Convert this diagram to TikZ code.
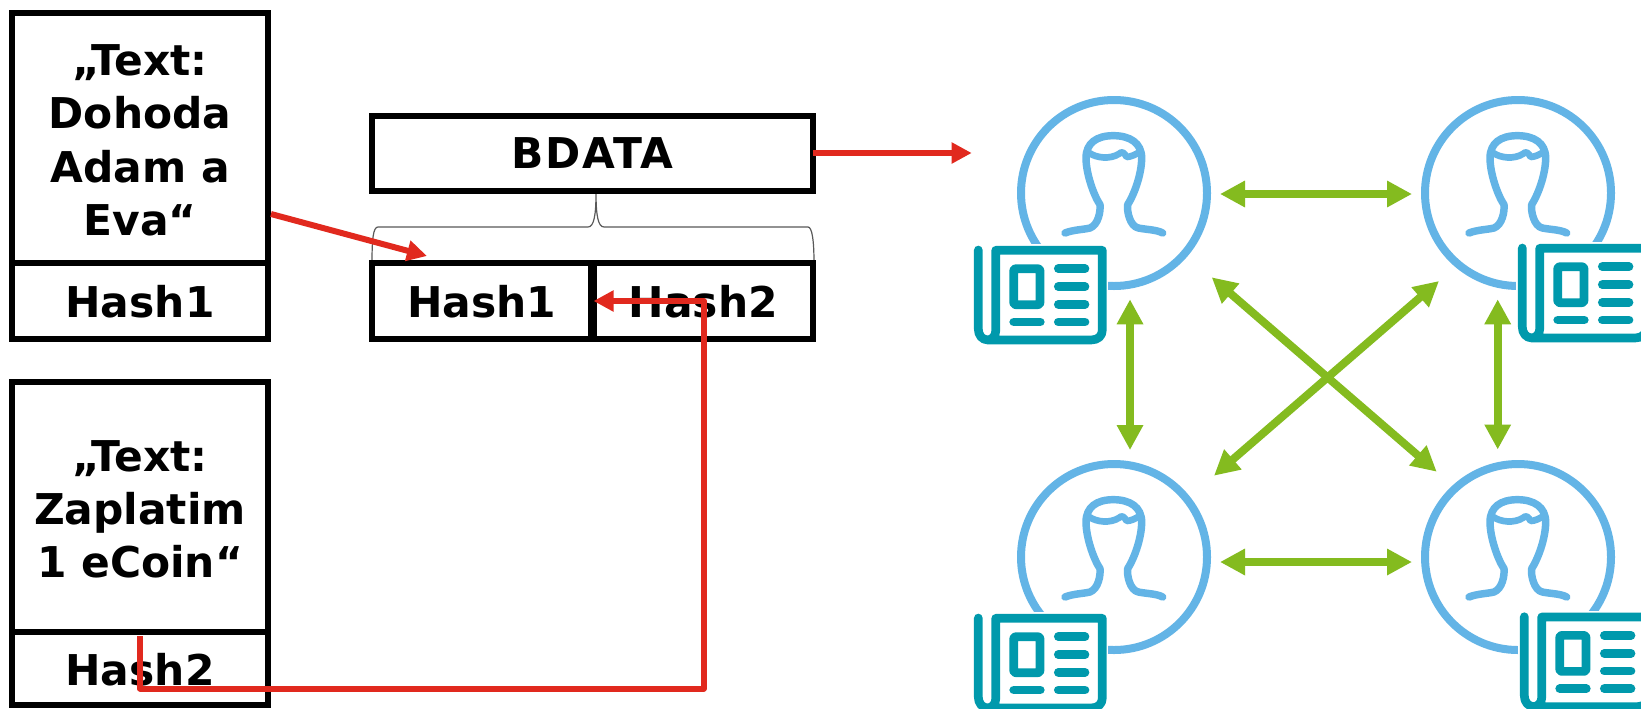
\documentclass[tikz,border=0pt]{standalone}
\usepackage{fontspec}
\setmainfont{DejaVu Sans}
\usetikzlibrary{arrows.meta}
\definecolor{redc}{HTML}{E1291E}
\definecolor{greenc}{HTML}{84BB1F}
\definecolor{bluec}{HTML}{63B4E6}
\definecolor{tealc}{HTML}{0099AC}
\definecolor{brc}{HTML}{595959}
\tikzset{
  x=0.75pt,y=-0.75pt,
  cellbox/.style={draw=black,line width=4.5pt,fill=white,inner sep=0pt,outer sep=0pt,align=center,
    font=\fontsize{31.8}{40}\selectfont\bfseries},
  redarrow/.style={draw=redc,line width=4.5pt,line join=round,-{Triangle[length=15pt,width=15pt]}},
  greenarrow/.style={draw=greenc,line width=6pt,{Triangle[length=18.75pt,width=18.75pt]}-{Triangle[length=18.75pt,width=18.75pt]}},
  personring/.style={circle,draw=bluec,line width=6pt,inner sep=0pt,outer sep=0pt,minimum size=139.5pt},
  personicon/.pic={
    \begin{scope}[x=0.25pt,y=-0.25pt,shift={(-462,-340)},draw=bluec,line width=5.6pt,line cap=round,line join=round]
      \draw (315,460) .. controls (340,450) and (370,450) .. (390,445)
        .. controls (415,435) and (422,395) .. (420,375)
        .. controls (400,345) and (378,280) .. (378,235)
        .. controls (378,190) and (410,168) .. (460,168)
        .. controls (510,168) and (545,190) .. (545,235)
        .. controls (545,280) and (525,340) .. (503,375)
        .. controls (500,395) and (510,440) .. (535,445)
        .. controls (560,450) and (590,450) .. (608,460);
      \draw[line width=5pt] (388,220) .. controls (410,235) and (450,240) .. (478,222)
        .. controls (485,212) and (495,222) .. (500,232)
        .. controls (510,232) and (530,225) .. (542,213);
    \end{scope}
  },
  newsicon/.pic={
    \begin{scope}[draw=tealc,line width=6.5pt,line cap=round,line join=round]
      \fill[white] (-2,-2) rectangle (134,100);
      \draw (4.3,4) -- (4.3,83) .. controls (4.3,89) and (8,94) .. (14,94) -- (117,94)
        .. controls (124,94) and (128.3,90) .. (128.3,84) -- (128.3,4.3) -- (21.7,4.3) -- (21.7,85)
        .. controls (21.7,90) and (18,94) .. (13,94);
      \draw[rounded corners=1.5pt] (39.7,22.7) rectangle (66,58.7);
      \draw (84.3,22.7) -- (111,22.7);
      \draw (84.3,40.7) -- (111,40.7);
      \draw (84.3,58.3) -- (111,58.3);
      \draw (84.3,76) -- (111,76);
      \draw (39.7,76) -- (66.3,76);
    \end{scope}
  }
}
\newcommand{\firstpad}{\rule{0pt}{26.5pt}}
\newcommand{\hashpad}{\rule{0pt}{25.7pt}}
\begin{document}
\begin{tikzpicture}
\path[use as bounding box,fill=white] (0,0) rectangle (1641,708);
\clip (0,0) rectangle (1641,708);

% brace
\coordinate (bracetip) at (596,193);
\coordinate (braceleft) at (372,263);
\coordinate (braceright) at (814,263);
\draw[brc,line width=0.9pt] (braceleft) .. controls (372,240) and (373,227) .. (378,227) -- (588,227)
  .. controls (594,227) and (596,215) .. (bracetip)
  .. controls (596,215) and (598,227) .. (604,227) -- (808,227)
  .. controls (812,227) and (814,240) .. (braceright);

% left boxes
\node[cellbox,minimum width=192pt,minimum height=187.5pt] (ta) at (140,138) {\firstpad„Text:\\Dohoda\\Adam a\\Eva“};
\node[cellbox,minimum width=192pt,minimum height=56.7pt] (ha) at (140,300.8) {\hashpad Hash1};
\node[cellbox,minimum width=192pt,minimum height=187.5pt] (tb) at (140,507) {\firstpad„Text:\\Zaplatim\\1 eCoin“};
\node[cellbox,minimum width=192pt,minimum height=54.8pt] (hb) at (140,668.5) {\hashpad Hash2};

% middle boxes
\node[cellbox,minimum width=330.75pt,minimum height=56.25pt] (bdata) at (592.5,153.5) {\addfontfeature{LetterSpace=4}BDATA};
\node[cellbox,minimum width=164.6pt,minimum height=56.7pt] (h1) at (481.75,300.8) {\hashpad Hash1};
\node[cellbox,minimum width=164.6pt,minimum height=56.7pt] (h2) at (703.25,300.8) {\hashpad Hash2};

% people
\node[personring] (p1) at (1114,193) {};
\node[personring] (p2) at (1518,193) {};
\node[personring] (p3) at (1114,557) {};
\node[personring] (p4) at (1518,557) {};
\pic at (p1) {personicon};
\pic at (p2) {personicon};
\pic at (p3) {personicon};
\pic at (p4) {personicon};
\pic at (974,246) {newsicon};
\pic at (1518,244) {newsicon};
\pic at (974,614) {newsicon};
\pic at (1520,612.7) {newsicon};

% green arrows
\coordinate (g1a) at (1220,194); \coordinate (g1b) at (1412,194);
\coordinate (g2a) at (1220,562); \coordinate (g2b) at (1412,562);
\coordinate (g3a) at (1130,299.3); \coordinate (g3b) at (1130,450);
\coordinate (g4a) at (1497.7,299.3); \coordinate (g4b) at (1497.7,449.5);
\coordinate (g5a) at (1211.7,277.3); \coordinate (g5b) at (1436.7,471.7);
\coordinate (g6a) at (1439,281); \coordinate (g6b) at (1214,475.7);
\draw[greenarrow] (g1a) -- (g1b);
\draw[greenarrow] (g2a) -- (g2b);
\draw[greenarrow] (g3a) -- (g3b);
\draw[greenarrow] (g4a) -- (g4b);
\draw[greenarrow] (g5a) -- (g5b);
\draw[greenarrow] (g6a) -- (g6b);

% red arrows
\coordinate (r1s) at (271,214); \coordinate (r1e) at (427,256);
\coordinate (r2e) at (971.7,153);
\coordinate (r3s) at (140,636); \coordinate (r3a) at (140,688.5);
\coordinate (r3b) at (703.6,688.5); \coordinate (r3c) at (703.6,301); \coordinate (r3e) at (593.5,301);
\draw[redarrow] (r1s) -- (r1e);
\draw[redarrow] (bdata.east |- 0,153) -- (r2e);
\draw[redarrow] (r3s) -- (r3a) -- (r3b) -- (r3c) -- (r3e);
\end{tikzpicture}
\end{document}
